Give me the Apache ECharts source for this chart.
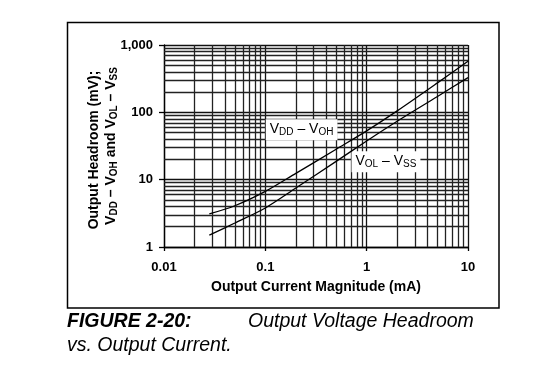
<!DOCTYPE html>
<html><head><meta charset="utf-8">
<script src="https://cdn.jsdelivr.net/npm/echarts@6/dist/echarts.min.js"></script>
<style>html,body{margin:0;padding:0;background:#fff}#c{width:540px;height:369px}</style>
</head><body><div id="c"></div>
<script>
// ---- data ----
const currentMA = [0.028, 0.05, 0.1, 0.2, 0.5, 1, 2, 5, 10];
const vddVoh   = [3.1, 4.1, 6.7, 12.4, 28.3, 53, 105, 274, 575];
const volVss   = [1.5, 2.27, 3.8, 7.5, 18.7, 37.6, 73.8, 172, 328];
const xTicks = [0.01, 0.1, 1, 10];
const xTickLabels = ['0.01', '0.1', '1', '10'];
const yTicks = [1, 10, 100, 1000];
const yTickLabels = ['1', '10', '100', '1,000'];
const minorMultipliers = [2, 3, 4, 5, 6, 7, 8, 9];
const xAxisTitle = 'Output Current Magnitude (mA)';
const yAxisTitle1 = 'Output Headroom (mV);';
const captionNum = 'FIGURE 2-20:';
const captionText1 = 'Output Voltage Headroom';
const captionText2 = 'vs. Output Current.';

const FONT = "'Liberation Sans', Arial, sans-serif";
function lookup(ticks, labels, v) {
  const k = Math.round(Math.log10(v));
  for (let i = 0; i < ticks.length; i++) if (Math.round(Math.log10(ticks[i])) === k) return labels[i];
  return '';
}
const xMinor = [], yMinor = [];
for (let i = 0; i < xTicks.length - 1; i++) minorMultipliers.forEach(m => xMinor.push({xAxis: +(m * xTicks[i]).toPrecision(6)}));
for (let i = 0; i < yTicks.length - 1; i++) minorMultipliers.forEach(m => yMinor.push({yAxis: +(m * yTicks[i]).toPrecision(6)}));

const subRich = {
  v: {fontFamily: FONT, fontSize: 14, color: '#000', lineHeight: 16},
  s: {fontFamily: FONT, fontSize: 10, color: '#000', verticalAlign: 'bottom', lineHeight: 8}
};
const subRichBold = {
  v: {fontFamily: FONT, fontSize: 14, fontWeight: 'bold', color: '#000', lineHeight: 16},
  s: {fontFamily: FONT, fontSize: 10, fontWeight: 'bold', color: '#000', verticalAlign: 'bottom', lineHeight: 8}
};

const chart = echarts.init(document.getElementById('c'), null, {renderer: 'canvas'});
chart.setOption({
  animation: false,
  backgroundColor: '#fff',
  grid: {left: 164, top: 45, right: 72, bottom: 122, containLabel: false},
  xAxis: {
    type: 'log', logBase: 10, min: 0.01, max: 10,
    axisLine: {show: true, lineStyle: {color: '#000', width: 1.3}},
    axisTick: {show: true, length: 4, lineStyle: {color: '#000', width: 1.3}},
    splitLine: {show: true, lineStyle: {color: '#111', width: 1.3}},
    axisLabel: {margin: 14, fontFamily: FONT, fontSize: 13, fontWeight: 'bold', color: '#000',
      formatter: v => lookup(xTicks, xTickLabels, v)},
    name: xAxisTitle, nameLocation: 'middle', nameGap: 33,
    nameTextStyle: {fontFamily: FONT, fontSize: 14, fontWeight: 'bold', color: '#000'}
  },
  yAxis: {
    type: 'log', logBase: 10, min: 1, max: 1000,
    axisLine: {show: true, lineStyle: {color: '#000', width: 1.3}},
    axisTick: {show: true, length: 5, lineStyle: {color: '#000', width: 1.3}},
    splitLine: {show: true, lineStyle: {color: '#111', width: 1.3}},
    axisLabel: {margin: 11, fontFamily: FONT, fontSize: 13, fontWeight: 'bold', color: '#000',
      formatter: v => lookup(yTicks, yTickLabels, v)}
  },
  series: [
    {
      type: 'line', data: [], z: 1, silent: true,
      markLine: {
        silent: true, symbol: ['none', 'none'], label: {show: false}, animation: false,
        lineStyle: {color: '#222', width: 1.3, type: 'solid'},
        data: xMinor.concat(yMinor)
      }
    },
    {
      name: 'VDD - VOH', type: 'line', z: 5, smooth: 0.3, showSymbol: false,
      data: currentMA.map((x, i) => [x, vddVoh[i]]),
      lineStyle: {color: '#000', width: 1.3},
      markPoint: {
        symbol: 'rect', symbolSize: 0, silent: true,
        data: [{coord: [0.228, 55], value: 0}],
        label: {show: true, position: 'inside', backgroundColor: '#fff', padding: [2, 4, 3, 4],
          formatter: '{v|V}{s|DD}{v| – V}{s|OH}', rich: subRich}
      }
    },
    {
      name: 'VOL - VSS', type: 'line', z: 5, smooth: 0.3, showSymbol: false,
      data: currentMA.map((x, i) => [x, volVss[i]]),
      lineStyle: {color: '#000', width: 1.3},
      markPoint: {
        symbol: 'rect', symbolSize: 0, silent: true,
        data: [{coord: [1.55, 18.4], value: 0}],
        label: {show: true, position: 'inside', backgroundColor: '#fff', padding: [2, 4, 3, 4],
          formatter: '{v|V}{s|OL}{v| – V}{s|SS}', rich: subRich}
      }
    }
  ],
  graphic: [
    {type: 'rect', shape: {x: 67.5, y: 22.5, width: 431.5, height: 285.5}, z: 100,
      style: {fill: 'none', stroke: '#000', lineWidth: 1.5}},
    {type: 'text', x: 94, y: 150, rotation: Math.PI / 2, z: 100,
      style: {text: yAxisTitle1, font: 'bold 14px ' + FONT, fill: '#000', textAlign: 'center', textVerticalAlign: 'middle'}},
    {type: 'text', x: 111, y: 146, rotation: Math.PI / 2, z: 100,
      style: {text: '{v|V}{s|DD}{v| – V}{s|OH}{v| and V}{s|OL}{v| – V}{s|SS}', rich: subRichBold,
        textAlign: 'center', textVerticalAlign: 'middle'}},
    {type: 'text', x: 67, y: 332, z: 100,
      style: {text: captionNum, font: 'italic bold 19.5px ' + FONT, fill: '#000', textAlign: 'left', textVerticalAlign: 'bottom'}},
    {type: 'text', x: 248, y: 332, z: 100,
      style: {text: captionText1, font: 'italic 19.5px ' + FONT, fill: '#000', textAlign: 'left', textVerticalAlign: 'bottom'}},
    {type: 'text', x: 67, y: 356, z: 100,
      style: {text: captionText2, font: 'italic 19.5px ' + FONT, fill: '#000', textAlign: 'left', textVerticalAlign: 'bottom'}}
  ]
});
</script></body></html>
